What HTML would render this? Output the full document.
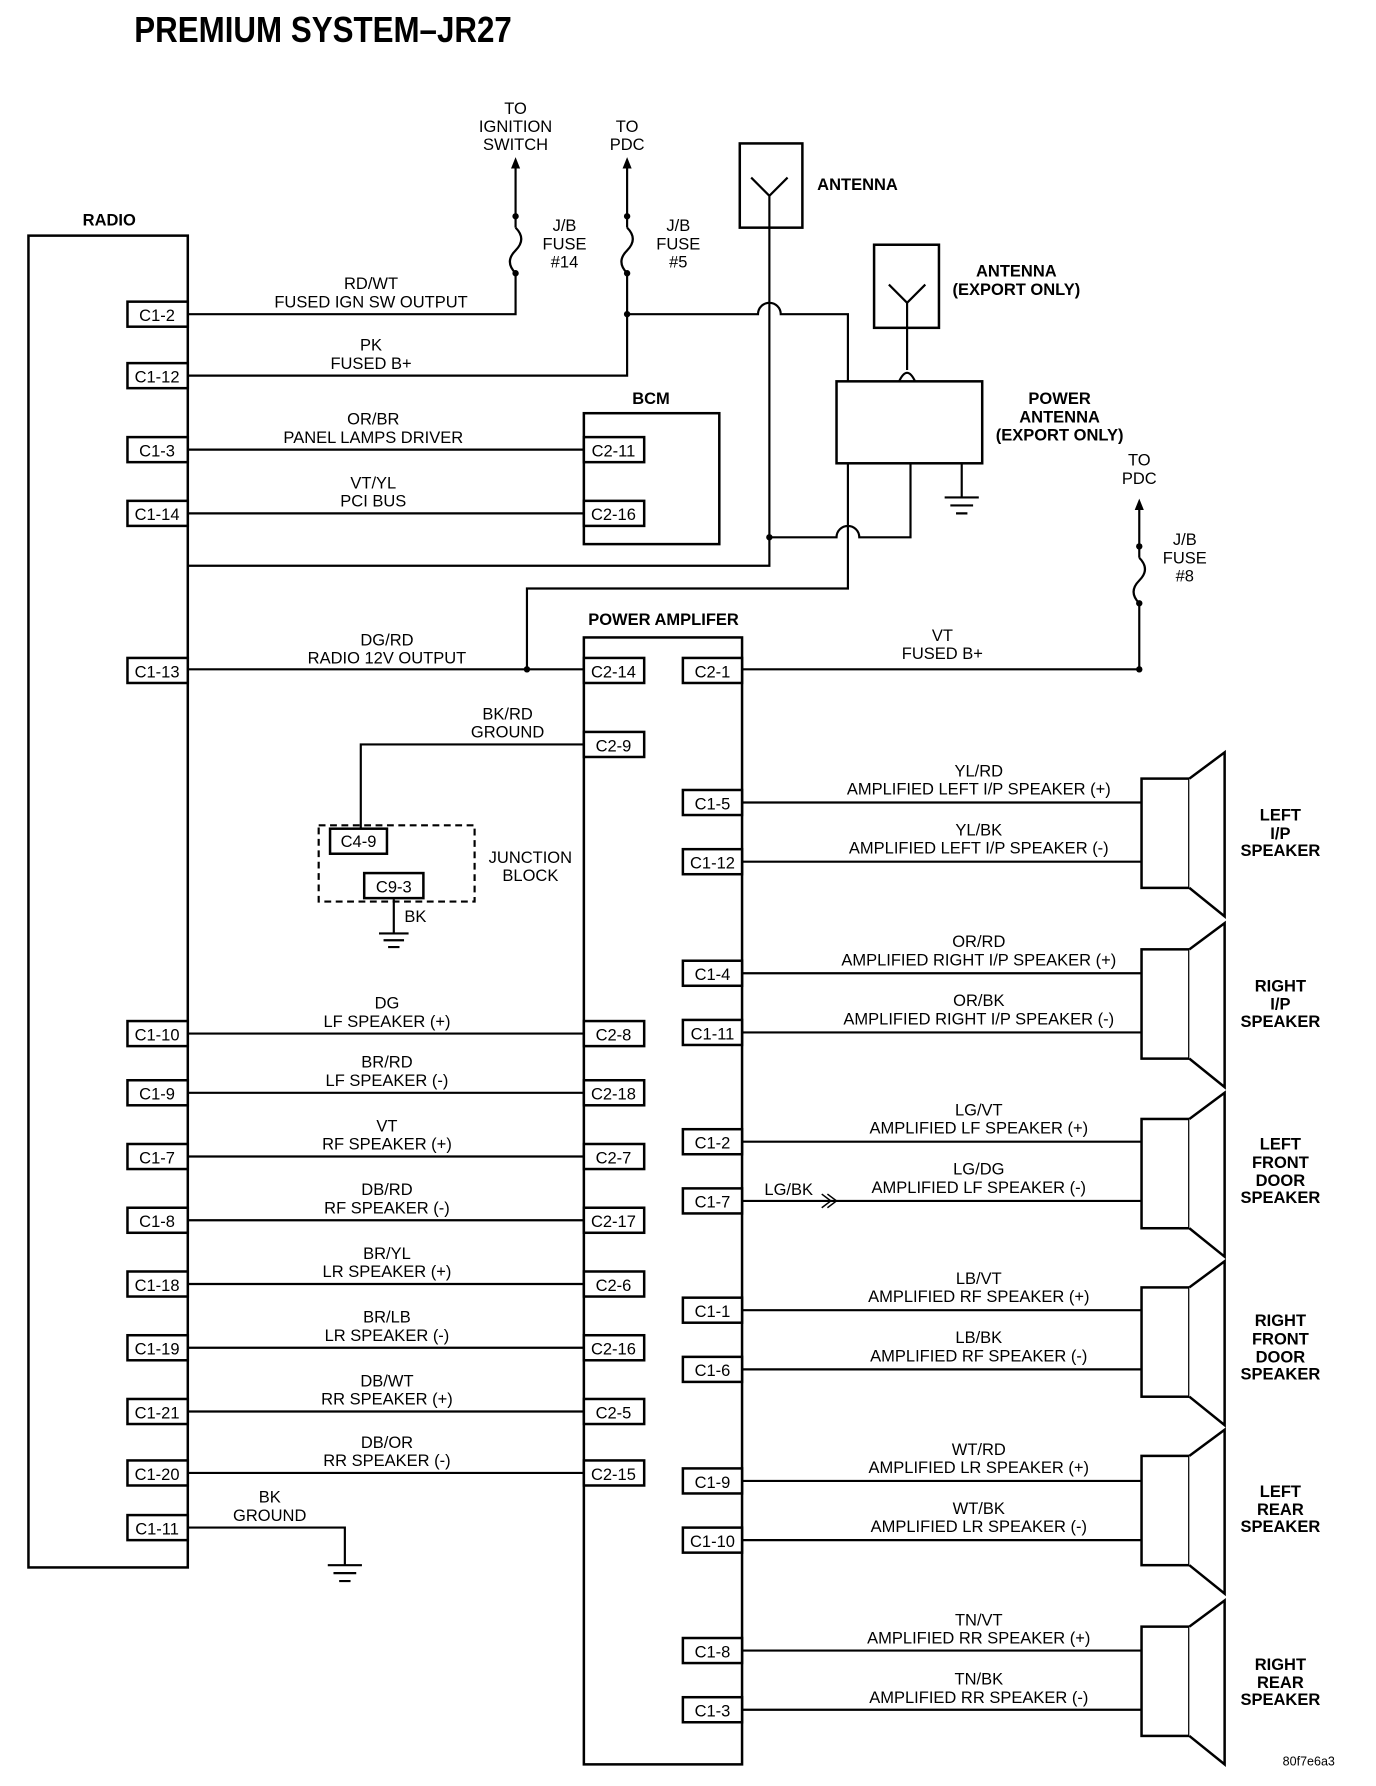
<!DOCTYPE html>
<html><head><meta charset="utf-8"><style>
html,body{margin:0;padding:0;background:#fff;}
svg{display:block}
text{font-family:"Liberation Sans",sans-serif;font-size:14.5px;fill:#000}
.b{font-weight:bold}
.c{text-anchor:middle}
</style></head><body>
<svg width="1376" height="1786" viewBox="0 0 1209 1569" preserveAspectRatio="none" xmlns="http://www.w3.org/2000/svg">
<g stroke="#000" stroke-width="1.9" fill="none">
<rect x="25" y="207" width="140" height="1170" stroke-width="2.2"/>
<rect x="513" y="363" width="119" height="115" stroke-width="2.2"/>
<rect x="513" y="560" width="139" height="990" stroke-width="2.2"/>
<rect x="650" y="126" width="55" height="74" stroke-width="2.2"/>
<path d="M660 156 L676 172 L692 156 M676 172 V472"/>
<rect x="768" y="215" width="57" height="73" stroke-width="2.2"/>
<path d="M781 250 L797 266 L813 250 M797 266 V325 M790 335 Q797 320 804 335"/>
<rect x="735" y="335" width="128" height="72" stroke-width="2.2"/>
<path d="M845 407 V437 M830 437 H860 M835 444 H855 M840 451 H850"/>
<path d="M165 276 H453 V240 M453 200 V145"/>
<path d="M453 200 Q463 210 453 220 Q443 230 453 240"/>
<path d="M165 330 H551 V240 M551 200 V145"/>
<path d="M551 200 Q561 210 551 220 Q541 230 551 240"/>
<path d="M551 276 H666 A10 10 0 0 1 686 276 H745 V335 M745 407 V517 H463 V588"/>
<path d="M165 497 H676 V472 M676 472 H735 A10 10 0 0 1 755 472 H800 V407"/>
<path d="M165 395 H513 M165 451 H513"/>
<path d="M165 588 H513"/>
<path d="M513 654 H317 V728"/>
<path d="M346 790 V820 M333 820 H359 M337 826 H355 M341 832 H351"/>
<path d="M165 1342 H303 V1375 M288 1375 H318 M293 1382 H313 M298 1389 H308"/>
<path d="M165 908 H513 M165 960 H513 M165 1016 H513 M165 1072 H513 M165 1128 H513 M165 1184 H513 M165 1240 H513 M165 1294 H513"/>
<path d="M652 588 H1001 V530 M1001 490 V445"/>
<path d="M1001 490 Q1011 500 1001 510 Q991 520 1001 530"/>
<path d="M652 705 H1003 M652 757 H1003 M652 855 H1003 M652 907 H1003 M652 1003 H1003 M652 1055 H1003 M652 1151 H1003 M652 1203 H1003 M652 1301 H1003 M652 1353 H1003 M652 1450 H1003 M652 1502 H1003"/>
<path d="M722 1049 L730 1055 L722 1061 M727 1049 L735 1055 L727 1061" stroke-width="1.3"/>
<rect x="280" y="725" width="137" height="67" stroke-dasharray="6,4"/>
</g>
<g fill="#000">
<path d="M453 138 L449 148 L457 148 Z M551 138 L547 148 L555 148 Z M1001 438 L997 448 L1005 448 Z"/>
<circle cx="453" cy="190" r="2.8"/><circle cx="453" cy="240" r="2.8"/>
<circle cx="551" cy="190" r="2.8"/><circle cx="551" cy="240" r="2.8"/><circle cx="551" cy="276" r="2.8"/>
<circle cx="1001" cy="480" r="2.8"/><circle cx="1001" cy="530" r="2.8"/><circle cx="1001" cy="588" r="2.8"/>
<circle cx="676" cy="472" r="2.8"/><circle cx="463" cy="588" r="2.8"/>
</g>
<g stroke="#000" stroke-width="2.2" fill="#fff">
<rect x="1003" y="684" width="42" height="96"/><path d="M1045 684 L1076 661 V805 L1045 780"/>
<rect x="1003" y="834" width="42" height="96"/><path d="M1045 834 L1076 811 V955 L1045 930"/>
<rect x="1003" y="983" width="42" height="96"/><path d="M1045 983 L1076 960 V1104 L1045 1079"/>
<rect x="1003" y="1131" width="42" height="96"/><path d="M1045 1131 L1076 1108 V1252 L1045 1227"/>
<rect x="1003" y="1279" width="42" height="96"/><path d="M1045 1279 L1076 1256 V1400 L1045 1375"/>
<rect x="1003" y="1429" width="42" height="96"/><path d="M1045 1429 L1076 1406 V1550 L1045 1525"/>
</g>
<g stroke="#000" stroke-width="2.2" fill="#fff">
<rect x="112" y="265" width="53" height="22"/><rect x="112" y="319" width="53" height="22"/>
<rect x="112" y="384" width="53" height="22"/><rect x="112" y="440" width="53" height="22"/>
<rect x="112" y="578" width="53" height="22"/><rect x="112" y="897" width="53" height="22"/>
<rect x="112" y="949" width="53" height="22"/><rect x="112" y="1005" width="53" height="22"/>
<rect x="112" y="1061" width="53" height="22"/><rect x="112" y="1117" width="53" height="22"/>
<rect x="112" y="1173" width="53" height="22"/><rect x="112" y="1229" width="53" height="22"/>
<rect x="112" y="1283" width="53" height="22"/><rect x="112" y="1331" width="53" height="22"/>
<rect x="513" y="384" width="53" height="22"/><rect x="513" y="440" width="53" height="22"/>
<rect x="513" y="578" width="53" height="22"/><rect x="513" y="643" width="53" height="22"/>
<rect x="513" y="897" width="53" height="22"/><rect x="513" y="949" width="53" height="22"/>
<rect x="513" y="1005" width="53" height="22"/><rect x="513" y="1061" width="53" height="22"/>
<rect x="513" y="1117" width="53" height="22"/><rect x="513" y="1173" width="53" height="22"/>
<rect x="513" y="1229" width="53" height="22"/><rect x="513" y="1283" width="53" height="22"/>
<rect x="600" y="578" width="52" height="22"/><rect x="600" y="694" width="52" height="22"/>
<rect x="600" y="746" width="52" height="22"/><rect x="600" y="844" width="52" height="22"/>
<rect x="600" y="896" width="52" height="22"/><rect x="600" y="992" width="52" height="22"/>
<rect x="600" y="1044" width="52" height="22"/><rect x="600" y="1140" width="52" height="22"/>
<rect x="600" y="1192" width="52" height="22"/><rect x="600" y="1290" width="52" height="22"/>
<rect x="600" y="1342" width="52" height="22"/><rect x="600" y="1439" width="52" height="22"/>
<rect x="600" y="1491" width="52" height="22"/>
<rect x="290" y="728" width="50" height="22"/><rect x="320" y="767" width="52" height="22"/>
</g>
<g class="c">
<g style="font-size:16px">
<text x="138" y="282">C1-2</text><text x="138" y="336">C1-12</text><text x="138" y="401">C1-3</text><text x="138" y="457">C1-14</text>
<text x="138" y="595">C1-13</text><text x="138" y="914">C1-10</text><text x="138" y="966">C1-9</text><text x="138" y="1022">C1-7</text>
<text x="138" y="1078">C1-8</text><text x="138" y="1134">C1-18</text><text x="138" y="1190">C1-19</text><text x="138" y="1246">C1-21</text>
<text x="138" y="1300">C1-20</text><text x="138" y="1348">C1-11</text>
<text x="539" y="401">C2-11</text><text x="539" y="457">C2-16</text>
<text x="539" y="595">C2-14</text><text x="539" y="660">C2-9</text><text x="539" y="914">C2-8</text><text x="539" y="966">C2-18</text>
<text x="539" y="1022">C2-7</text><text x="539" y="1078">C2-17</text><text x="539" y="1134">C2-6</text><text x="539" y="1190">C2-16</text>
<text x="539" y="1246">C2-5</text><text x="539" y="1300">C2-15</text>
<text x="626" y="595">C2-1</text><text x="626" y="711">C1-5</text><text x="626" y="763">C1-12</text><text x="626" y="861">C1-4</text>
<text x="626" y="913">C1-11</text><text x="626" y="1009">C1-2</text><text x="626" y="1061">C1-7</text><text x="626" y="1157">C1-1</text>
<text x="626" y="1209">C1-6</text><text x="626" y="1307">C1-9</text><text x="626" y="1359">C1-10</text><text x="626" y="1456">C1-8</text><text x="626" y="1508">C1-3</text>
<text x="315" y="744">C4-9</text><text x="346" y="784">C9-3</text>
</g>
<text x="365" y="810">BK</text>
<text x="326" y="254">RD/WT</text><text x="326" y="270">FUSED IGN SW OUTPUT</text>
<text x="326" y="308">PK</text><text x="326" y="324">FUSED B+</text>
<text x="328" y="373">OR/BR</text><text x="328" y="389">PANEL LAMPS DRIVER</text>
<text x="328" y="429">VT/YL</text><text x="328" y="445">PCI BUS</text>
<text x="340" y="567">DG/RD</text><text x="340" y="583">RADIO 12V OUTPUT</text>
<text x="446" y="632">BK/RD</text><text x="446" y="648">GROUND</text>
<text x="466" y="758">JUNCTION</text><text x="466" y="774">BLOCK</text>
<text x="340" y="886">DG</text><text x="340" y="902">LF SPEAKER (+)</text>
<text x="340" y="938">BR/RD</text><text x="340" y="954">LF SPEAKER (-)</text>
<text x="340" y="994">VT</text><text x="340" y="1010">RF SPEAKER (+)</text>
<text x="340" y="1050">DB/RD</text><text x="340" y="1066">RF SPEAKER (-)</text>
<text x="340" y="1106">BR/YL</text><text x="340" y="1122">LR SPEAKER (+)</text>
<text x="340" y="1162">BR/LB</text><text x="340" y="1178">LR SPEAKER (-)</text>
<text x="340" y="1218">DB/WT</text><text x="340" y="1234">RR SPEAKER (+)</text>
<text x="340" y="1272">DB/OR</text><text x="340" y="1288">RR SPEAKER (-)</text>
<text x="237" y="1320">BK</text><text x="237" y="1336">GROUND</text>
<text x="453" y="100">TO</text><text x="453" y="116">IGNITION</text><text x="453" y="132">SWITCH</text>
<text x="551" y="116">TO</text><text x="551" y="132">PDC</text>
<text x="496" y="203">J/B</text><text x="496" y="219">FUSE</text><text x="496" y="235">#14</text>
<text x="596" y="203">J/B</text><text x="596" y="219">FUSE</text><text x="596" y="235">#5</text>
<text x="1001" y="409">TO</text><text x="1001" y="425">PDC</text>
<text x="1041" y="479">J/B</text><text x="1041" y="495">FUSE</text><text x="1041" y="511">#8</text>
<text x="828" y="563">VT</text><text x="828" y="579">FUSED B+</text>
<text x="860" y="682">YL/RD</text><text x="860" y="698">AMPLIFIED LEFT I/P SPEAKER (+)</text>
<text x="860" y="734">YL/BK</text><text x="860" y="750">AMPLIFIED LEFT I/P SPEAKER (-)</text>
<text x="860" y="832">OR/RD</text><text x="860" y="848">AMPLIFIED RIGHT I/P SPEAKER (+)</text>
<text x="860" y="884">OR/BK</text><text x="860" y="900">AMPLIFIED RIGHT I/P SPEAKER (-)</text>
<text x="860" y="980">LG/VT</text><text x="860" y="996">AMPLIFIED LF SPEAKER (+)</text>
<text x="860" y="1032">LG/DG</text><text x="860" y="1048">AMPLIFIED LF SPEAKER (-)</text>
<text x="693" y="1050">LG/BK</text>
<text x="860" y="1128">LB/VT</text><text x="860" y="1144">AMPLIFIED RF SPEAKER (+)</text>
<text x="860" y="1180">LB/BK</text><text x="860" y="1196">AMPLIFIED RF SPEAKER (-)</text>
<text x="860" y="1278">WT/RD</text><text x="860" y="1294">AMPLIFIED LR SPEAKER (+)</text>
<text x="860" y="1330">WT/BK</text><text x="860" y="1346">AMPLIFIED LR SPEAKER (-)</text>
<text x="860" y="1428">TN/VT</text><text x="860" y="1444">AMPLIFIED RR SPEAKER (+)</text>
<text x="860" y="1480">TN/BK</text><text x="860" y="1496">AMPLIFIED RR SPEAKER (-)</text>
</g>
<g class="b c">
<text x="96" y="198">RADIO</text>
<text x="572" y="355">BCM</text>
<text x="583" y="549">POWER AMPLIFER</text>
<text x="893" y="243">ANTENNA</text><text x="893" y="259">(EXPORT ONLY)</text>
<text x="931" y="355">POWER</text><text x="931" y="371">ANTENNA</text><text x="931" y="387">(EXPORT ONLY)</text>
<text x="1125" y="721">LEFT</text><text x="1125" y="737">I/P</text><text x="1125" y="752">SPEAKER</text>
<text x="1125" y="871">RIGHT</text><text x="1125" y="887">I/P</text><text x="1125" y="902">SPEAKER</text>
<text x="1125" y="1010">LEFT</text><text x="1125" y="1026">FRONT</text><text x="1125" y="1042">DOOR</text><text x="1125" y="1057">SPEAKER</text>
<text x="1125" y="1165">RIGHT</text><text x="1125" y="1181">FRONT</text><text x="1125" y="1197">DOOR</text><text x="1125" y="1212">SPEAKER</text>
<text x="1125" y="1315">LEFT</text><text x="1125" y="1331">REAR</text><text x="1125" y="1346">SPEAKER</text>
<text x="1125" y="1467">RIGHT</text><text x="1125" y="1483">REAR</text><text x="1125" y="1498">SPEAKER</text>
</g>
<text class="b" x="718" y="167">ANTENNA</text>
<text class="b" x="118" y="37" style="font-size:32px" transform="translate(118 0) scale(0.86 1) translate(-118 0)">PREMIUM SYSTEM–JR27</text>
<text x="1127" y="1551" style="font-size:11px">80f7e6a3</text>
</svg>
</body></html>
